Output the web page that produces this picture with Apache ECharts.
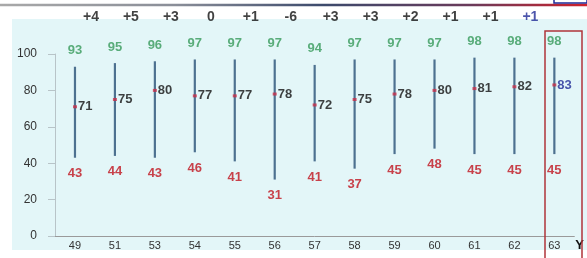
<!DOCTYPE html>
<html>
<head>
<meta charset="utf-8">
<script src="https://cdn.jsdelivr.net/npm/echarts@6/dist/echarts.min.js"></script>
<style>
  html, body { margin: 0; padding: 0; background: #fff; }
  #main { width: 587px; height: 258px; }
</style>
</head>
<body>
<div id="main"></div>
<script>
// categories and values
var categories = ['49', '51', '53', '54', '55', '56', '57', '58', '59', '60', '61', '62', '63'];
var highs = [93, 95, 96, 97, 97, 97, 94, 97, 97, 97, 98, 98, 98];
var means = [71, 75, 80, 77, 77, 78, 72, 75, 78, 80, 81, 82, 83];
var lows = [43, 44, 43, 46, 41, 31, 41, 37, 45, 48, 45, 45, 45];
var deltas = ['+4', '+5', '+3', '0', '+1', '-6', '+3', '+3', '+2', '+1', '+1', '+1'];
var deltaRow = 120; // value level where the change labels sit

var font = 'Liberation Sans, Arial, sans-serif';
var myChart = echarts.init(document.getElementById('main'));

var rangeData = categories.map(function (c, i) { return [i, lows[i], highs[i]]; });

var meanData = means.map(function (v, i) {
  var item = { value: [i, v] };
  if (i === means.length - 1) item.label = { color: '#1f2a96' };
  return item;
});

var deltaData = deltas.map(function (d, i) {
  var item = { value: [i, deltaRow], name: d };
  if (i === deltas.length - 1) item.label = { color: '#1f2a96' };
  return item;
});

// invisible point carrying only a label
var hidden = { symbol: 'circle', symbolSize: 1, itemStyle: { color: 'rgba(0,0,0,0)' } };

var option = {
  animation: false,
  textStyle: { fontFamily: font },
  graphic: [
    // light cyan panel
    { type: 'rect', z: -10, silent: true, shape: { x: 12, y: 19, width: 580, height: 231 }, style: { fill: '#e3f6f8' } },
    // top rule
    { type: 'line', silent: true, shape: { x1: 0, y1: 5, x2: 587, y2: 5 },
      style: { lineWidth: 2.5, stroke: new echarts.graphic.LinearGradient(0, 0, 1, 0, [
        { offset: 0, color: '#a9a9a9' }, { offset: 0.3, color: '#8a8e98' }, { offset: 0.55, color: '#3c4a6c' }, { offset: 0.8, color: '#6a3a5a' }, { offset: 1, color: '#d0202a' }]) } },
    { type: 'rect', silent: true, shape: { x: 554, y: -3, width: 33, height: 6 }, style: { fill: 'none', stroke: '#1f2a96', lineWidth: 1.5 } },
    // highlight frame around the last year
    { type: 'rect', z: 10, silent: true, shape: { x: 545, y: 31, width: 37, height: 240 }, style: { fill: 'none', stroke: '#b0343a', lineWidth: 1.5 } }
  ],
  grid: { left: 55, right: 5.5, top: 54, bottom: 22 },
  xAxis: {
    type: 'category',
    data: categories,
    boundaryGap: true,
    name: 'Y',
    nameLocation: 'end',
    nameGap: 1,
    nameTextStyle: { fontFamily: font, fontWeight: 'bold', fontSize: 13, color: '#111', verticalAlign: 'top', padding: [3, 0, 0, 0] },
    axisLine: { lineStyle: { color: '#9a9a9a', width: 1 } },
    axisTick: { show: false },
    axisLabel: { color: '#333', fontSize: 11, margin: 4, fontFamily: font }
  },
  yAxis: {
    type: 'value',
    min: 0,
    max: 100,
    interval: 20,
    axisLine: { show: true, lineStyle: { color: '#b8c4c8' } },
    axisTick: { show: true, length: 7, lineStyle: { color: '#b8c4c8' } },
    splitLine: { show: false },
    axisLabel: { color: '#333', fontSize: 12, margin: 18, fontFamily: font }
  },
  series: [
    {
      name: 'range',
      type: 'custom',
      data: rangeData,
      renderItem: function (params, api) {
        var lo = api.coord([api.value(0), api.value(1)]);
        var hi = api.coord([api.value(0), api.value(2)]);
        return {
          type: 'line',
          shape: { x1: lo[0], y1: lo[1], x2: hi[0], y2: hi[1] },
          style: { stroke: '#4d7190', lineWidth: 2.2 }
        };
      },
      z: 2
    },
    Object.assign({
      name: 'high',
      type: 'scatter',
      data: highs.map(function (v, i) { return [i, v]; }),
      label: {
        show: true, position: 'top', distance: 9,
        formatter: function (p) { return p.value[1]; },
        color: '#369a5a', fontWeight: 'bold', fontSize: 13, fontFamily: font
      },
      z: 3
    }, hidden),
    Object.assign({
      name: 'low',
      type: 'scatter',
      data: lows.map(function (v, i) { return [i, v]; }),
      label: {
        show: true, position: 'bottom', distance: 9,
        formatter: function (p) { return p.value[1]; },
        color: '#c0141e', fontWeight: 'bold', fontSize: 13, fontFamily: font
      },
      z: 3
    }, hidden),
    {
      name: 'mean',
      type: 'scatter',
      symbol: 'rect',
      symbolSize: [4, 3],
      itemStyle: { color: '#c8304a' },
      data: meanData,
      label: {
        show: true, position: 'right', distance: 1,
        formatter: function (p) { return p.value[1]; },
        color: '#111', fontWeight: 'bold', fontSize: 13, fontFamily: font
      },
      z: 4
    },
    Object.assign({
      name: 'change',
      type: 'scatter',
      clip: false,
      data: deltaData,
      label: {
        show: true, position: 'inside', offset: [16, 0],
        formatter: function (p) { return p.name; },
        color: '#111', fontWeight: 'bold', fontSize: 14, fontFamily: font
      },
      z: 4
    }, hidden)
  ]
};

myChart.setOption(option);
</script>
</body>
</html>
